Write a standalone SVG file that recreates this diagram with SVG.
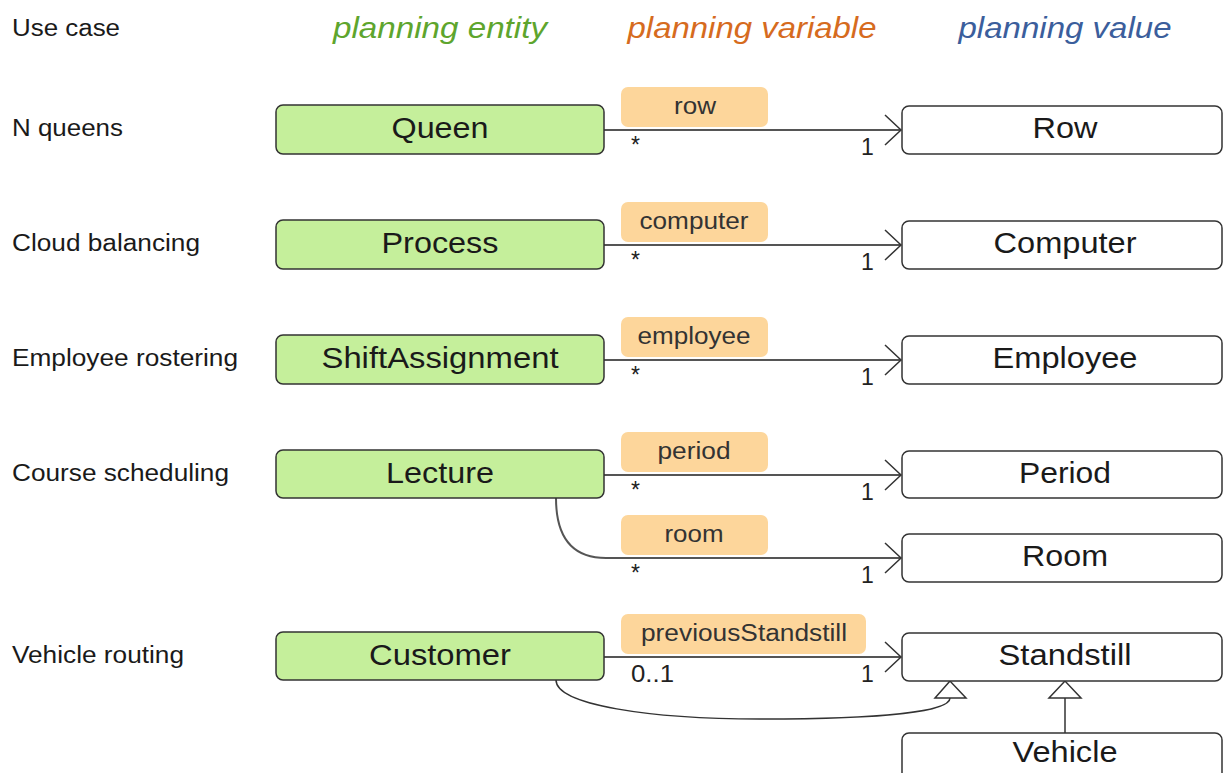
<svg xmlns="http://www.w3.org/2000/svg" width="1224" height="773" viewBox="0 0 1224 773">
<defs>
<style>
.t{font-family:"Liberation Sans",Arial,sans-serif;fill:#1a1a1a}
.uc{font-size:23px}
.hd{font-size:29px;font-style:italic;text-anchor:middle}
.ent rect{fill:#c5ef9b;stroke:#333;stroke-width:1.5}
.val rect{fill:#fff;stroke:#333;stroke-width:1.5}
.nt{font-size:29px;text-anchor:middle}
.lb rect{fill:#fdd69b;stroke:none}
.lt{font-size:23px;text-anchor:middle;fill:#333}
.mt{font-size:23px;fill:#222}
.ln{fill:none;stroke:#555;stroke-width:2}
.cv{fill:none;stroke:#333;stroke-width:1.5}
.tri{fill:#fff;stroke:#333;stroke-width:1.5}
</style>
<marker id="open" viewBox="0 0 20 34" refX="17" refY="17" markerWidth="20" markerHeight="34" markerUnits="userSpaceOnUse" orient="auto">
<path d="M1,2 L17,17 L1,32" fill="none" stroke="#333" stroke-width="1.5"/>
</marker>
</defs>
<rect width="1224" height="773" fill="#fff"/>
<g id="headers">
<text class="t uc" x="12" y="36" textLength="108" lengthAdjust="spacingAndGlyphs">Use case</text>
<text class="t hd" x="440" y="38" textLength="214" lengthAdjust="spacingAndGlyphs" style="fill:#5ea52d">planning entity</text>
<text class="t hd" x="752" y="38" textLength="249" lengthAdjust="spacingAndGlyphs" style="fill:#d66b1e">planning variable</text>
<text class="t hd" x="1065" y="38" textLength="213" lengthAdjust="spacingAndGlyphs" style="fill:#3b5e9c">planning value</text>
</g>
<g id="usecases">
<text class="t uc" x="12" y="136" textLength="111" lengthAdjust="spacingAndGlyphs">N queens</text>
<text class="t uc" x="12" y="251" textLength="188" lengthAdjust="spacingAndGlyphs">Cloud balancing</text>
<text class="t uc" x="12" y="366" textLength="226" lengthAdjust="spacingAndGlyphs">Employee rostering</text>
<text class="t uc" x="12" y="481" textLength="217" lengthAdjust="spacingAndGlyphs">Course scheduling</text>
<text class="t uc" x="12" y="663" textLength="172" lengthAdjust="spacingAndGlyphs">Vehicle routing</text>
</g>
<g id="connectors">
<line class="ln" x1="604" y1="130" x2="901" y2="130" marker-end="url(#open)"/>
<line class="ln" x1="604" y1="245" x2="901" y2="245" marker-end="url(#open)"/>
<line class="ln" x1="604" y1="360" x2="901" y2="360" marker-end="url(#open)"/>
<line class="ln" x1="604" y1="475" x2="901" y2="475" marker-end="url(#open)"/>
<path class="ln" d="M556,498 C556,535 570,558 606,558 L901,558" marker-end="url(#open)"/>
<line class="ln" x1="604" y1="657" x2="901" y2="657" marker-end="url(#open)"/>
<path class="cv" d="M556,680 C556,705 650,719 760,719 C880,719 950,712 950,698"/>
<path class="tri" d="M950,681 L935,698 L966,698 Z"/>
<line class="cv" x1="1065" y1="733" x2="1065" y2="698"/>
<path class="tri" d="M1065,681 L1049,698 L1081,698 Z"/>
</g>
<g id="labels">
<g class="lb" id="lbl-row"><rect x="621" y="87" width="147" height="40" rx="7"/><text class="t lt" x="695" y="114" textLength="42" lengthAdjust="spacingAndGlyphs">row</text></g>
<g class="lb" id="lbl-computer"><rect x="621" y="202" width="147" height="40" rx="7"/><text class="t lt" x="694" y="229" textLength="109" lengthAdjust="spacingAndGlyphs">computer</text></g>
<g class="lb" id="lbl-employee"><rect x="621" y="317" width="147" height="40" rx="7"/><text class="t lt" x="694" y="344" textLength="113" lengthAdjust="spacingAndGlyphs">employee</text></g>
<g class="lb" id="lbl-period"><rect x="621" y="432" width="147" height="40" rx="7"/><text class="t lt" x="694" y="459" textLength="73" lengthAdjust="spacingAndGlyphs">period</text></g>
<g class="lb" id="lbl-room"><rect x="621" y="515" width="147" height="40" rx="7"/><text class="t lt" x="694" y="542" textLength="59" lengthAdjust="spacingAndGlyphs">room</text></g>
<g class="lb" id="lbl-prev"><rect x="621" y="614" width="245" height="40" rx="7"/><text class="t lt" x="744" y="641" textLength="206" lengthAdjust="spacingAndGlyphs">previousStandstill</text></g>
<text class="t mt" x="631" y="153">*</text><text class="t mt" x="861" y="155">1</text>
<text class="t mt" x="631" y="268">*</text><text class="t mt" x="861" y="270">1</text>
<text class="t mt" x="631" y="383">*</text><text class="t mt" x="861" y="385">1</text>
<text class="t mt" x="631" y="498">*</text><text class="t mt" x="861" y="500">1</text>
<text class="t mt" x="631" y="581">*</text><text class="t mt" x="861" y="583">1</text>
<text class="t mt" x="631" y="682" textLength="43" lengthAdjust="spacingAndGlyphs">0..1</text><text class="t mt" x="861" y="682">1</text>
</g>
<g id="queen" class="ent"><rect x="276" y="105" width="328" height="49" rx="7"/><text class="t nt" x="440" y="138" textLength="97" lengthAdjust="spacingAndGlyphs">Queen</text></g>
<g id="process" class="ent"><rect x="276" y="220" width="328" height="49" rx="7"/><text class="t nt" x="440" y="253" textLength="117" lengthAdjust="spacingAndGlyphs">Process</text></g>
<g id="shiftassignment" class="ent"><rect x="276" y="335" width="328" height="49" rx="7"/><text class="t nt" x="440" y="368" textLength="237" lengthAdjust="spacingAndGlyphs">ShiftAssignment</text></g>
<g id="lecture" class="ent"><rect x="276" y="450" width="328" height="48" rx="7"/><text class="t nt" x="440" y="483" textLength="108" lengthAdjust="spacingAndGlyphs">Lecture</text></g>
<g id="customer" class="ent"><rect x="276" y="632" width="328" height="48" rx="7"/><text class="t nt" x="440" y="665" textLength="142" lengthAdjust="spacingAndGlyphs">Customer</text></g>
<g id="row" class="val"><rect x="902" y="106" width="320" height="48" rx="7"/><text class="t nt" x="1065" y="138" textLength="65" lengthAdjust="spacingAndGlyphs">Row</text></g>
<g id="computer" class="val"><rect x="902" y="221" width="320" height="48" rx="7"/><text class="t nt" x="1065" y="253" textLength="143" lengthAdjust="spacingAndGlyphs">Computer</text></g>
<g id="employee" class="val"><rect x="902" y="336" width="320" height="48" rx="7"/><text class="t nt" x="1065" y="368" textLength="145" lengthAdjust="spacingAndGlyphs">Employee</text></g>
<g id="period" class="val"><rect x="902" y="451" width="320" height="47" rx="7"/><text class="t nt" x="1065" y="483" textLength="92" lengthAdjust="spacingAndGlyphs">Period</text></g>
<g id="room" class="val"><rect x="902" y="534" width="320" height="48" rx="7"/><text class="t nt" x="1065" y="566" textLength="86" lengthAdjust="spacingAndGlyphs">Room</text></g>
<g id="standstill" class="val"><rect x="902" y="633" width="320" height="48" rx="7"/><text class="t nt" x="1065" y="665" textLength="133" lengthAdjust="spacingAndGlyphs">Standstill</text></g>
<g id="vehicle" class="val"><rect x="902" y="733" width="320" height="50" rx="7"/><text class="t nt" x="1065" y="762" textLength="105" lengthAdjust="spacingAndGlyphs">Vehicle</text></g>
</svg>
